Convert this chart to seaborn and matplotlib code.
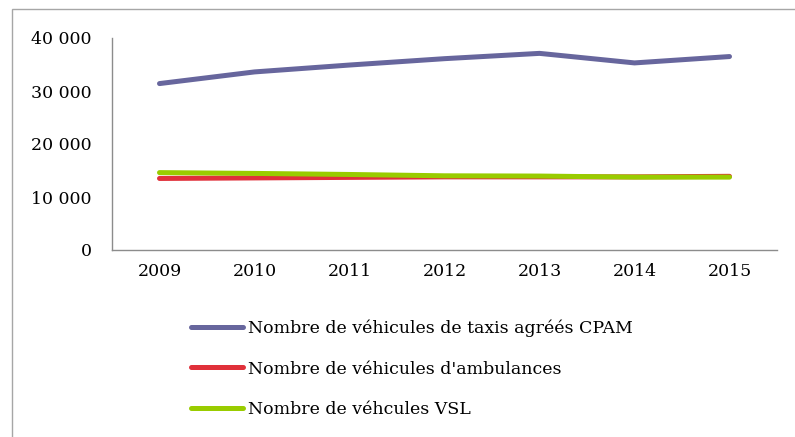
import matplotlib
matplotlib.use("Agg")
import matplotlib.pyplot as plt
import seaborn as sns
import pandas as pd
from matplotlib.patches import Rectangle
from matplotlib.ticker import FuncFormatter
from matplotlib.lines import Line2D

years = ["2009", "2010", "2011", "2012", "2013", "2014", "2015"]
taxis = [31400, 33600, 34900, 36100, 37100, 35300, 36500]
ambulances = [13500, 13600, 13700, 13800, 13800, 13800, 13900]
vsl = [14600, 14450, 14250, 14000, 13950, 13750, 13750]
series_names = ["Nombre de véhicules de taxis agréés CPAM",
                "Nombre de véhicules d'ambulances",
                "Nombre de véhcules VSL"]
colors = ["#67669D", "#E0303A", "#99CC00"]

rows = []
for name, vals in zip(series_names, [taxis, ambulances, vsl]):
    for y, v in zip(years, vals):
        rows.append({"Année": y, "Valeur": v, "Série": name})
df = pd.DataFrame(rows)

sns.set_style("white")
plt.rcParams['font.family'] = ['DejaVu Serif']
plt.rcParams['text.color'] = 'black'
plt.rcParams['xtick.color'] = 'black'
plt.rcParams['ytick.color'] = 'black'

fig = plt.figure(figsize=(7.95, 4.37), dpi=100)
ax = fig.add_axes([112/795, 1 - 250/437, (777 - 112)/795, (250 - 38)/437])

sns.lineplot(data=df, x="Année", y="Valeur", hue="Série", palette=colors,
             linewidth=3.6, ax=ax, legend=False, sort=False)
for ln in ax.lines:
    ln.set_solid_capstyle("round")

ax.set_xlim(-0.5, len(years) - 0.5)
ax.set_ylim(0, 40000)
ax.set_yticks([0, 10000, 20000, 30000, 40000])
ax.yaxis.set_major_formatter(FuncFormatter(lambda v, p: f"{int(v):,}".replace(",", " ")))
ax.set_xlabel("")
ax.set_ylabel("")
ax.tick_params(axis="y", length=0, pad=14.5, labelsize=12.5, labelcolor="black")
ax.tick_params(axis="x", length=0, pad=9, labelsize=12.5, labelcolor="black")
for s in ["top", "right"]:
    ax.spines[s].set_visible(False)
for s in ["left", "bottom"]:
    ax.spines[s].set_color("#8c8c8c")
    ax.spines[s].set_linewidth(1.0)
ax.grid(False)

handles = [Line2D([0], [0], color=c, lw=3.6, solid_capstyle="round") for c in colors]
leg = fig.legend(handles, series_names, loc="upper left",
                 bbox_to_anchor=(184/795, 1 - 313/437), frameon=False,
                 fontsize=12.5, handlelength=3.0, handletextpad=0.3,
                 labelspacing=1.33, borderaxespad=0)
for t in leg.get_texts():
    t.set_color("black")

fig.patches.append(Rectangle((12/795, -0.1), 1.2, 1 - 9/437 + 0.1,
                             transform=fig.transFigure, fill=False,
                             edgecolor="#a6a6a6", linewidth=1.0))

fig.savefig("out.png", dpi=100)
